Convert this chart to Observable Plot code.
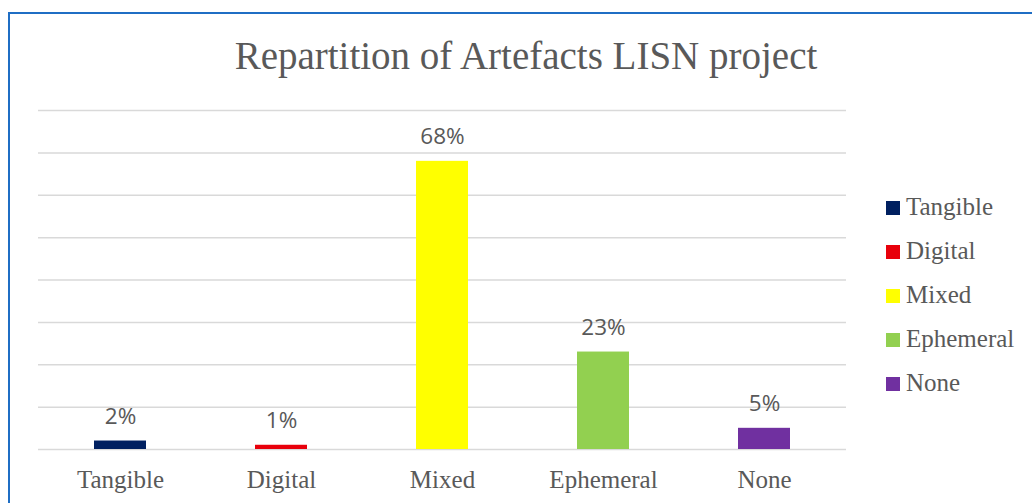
<!DOCTYPE html>
<html>
<head>
<meta charset="utf-8">
<script src="https://cdn.jsdelivr.net/npm/d3@7"></script>
<script src="https://cdn.jsdelivr.net/npm/@observablehq/plot@0.6"></script>
<style>
  html, body { margin: 0; padding: 0; background: #fff; width: 1032px; height: 503px; overflow: hidden; }
  #frame { position: absolute; left: 8px; top: 12px; width: 1040px; height: 520px;
           border-left: 2px solid #1f6ec4; border-top: 2px solid #1f6ec4; box-sizing: border-box; }
  #title { position: absolute; left: 0; top: 36px; width: 1052px; text-align: center;
           font-family: "Liberation Serif", serif; font-size: 39px; color: #595959; line-height: 1; }
  #chart { position: absolute; left: 0; top: 0; }
  #legend { position: absolute; left: 886px; top: 194px; font-family: "Liberation Serif", serif;
            font-size: 25px; color: #595959; }
  .row { position: absolute; left: 0; height: 30px; white-space: nowrap; line-height: 1; }
  .sw { position: absolute; left: 0; top: 7px; width: 14px; height: 14px; }
  .tx { position: absolute; left: 20px; top: 0; }
</style>
</head>
<body>
<div id="frame"></div>
<div id="title">Repartition of Artefacts LISN project</div>
<div id="chart"></div>
<div id="legend"></div>
<script>
const categories = ["Tangible", "Digital", "Mixed", "Ephemeral", "None"];
const values = [2, 1, 68, 23, 5];
const colors = ["#002060", "#e8000b", "#ffff00", "#92d050", "#7030a0"];
const gridTicks = [0, 10, 20, 30, 40, 50, 60, 70, 80];

const data = categories.map((c, i) => ({category: c, value: values[i], label: values[i] + "%"}));

const plot = Plot.plot({
  width: 870,
  height: 503,
  marginLeft: 38,
  marginRight: 24,
  marginTop: 110,
  marginBottom: 54,
  x: {domain: categories, paddingInner: 0.68, paddingOuter: 0.34, axis: null},
  y: {domain: [0, 80], axis: null},
  color: {domain: categories, range: colors},
  style: {background: "transparent"},
  marks: [
    Plot.ruleY(gridTicks, {stroke: "#d9d9d9", strokeWidth: 1.5}),
    Plot.barY(data, {x: "category", y: "value", fill: "category"}),
    Plot.text(data, {x: "category", y: "value", text: "label", dy: -17, lineAnchor: "bottom",
      fontFamily: "'Open Sans', sans-serif", fontSize: 22.5, fill: "#595959"}),
    Plot.axisX({domain: categories, tickSize: 0, tickPadding: 21, fontSize: 25,
      fontFamily: "'Liberation Serif', serif", color: "#595959", label: null})
  ]
});
plot.querySelectorAll("text").forEach(t => t.setAttribute("fill", "#595959"));
document.getElementById("chart").appendChild(plot);

const legend = document.getElementById("legend");
categories.forEach((c, i) => {
  const row = document.createElement("div");
  row.className = "row";
  row.style.top = (i * 44) + "px";
  const sw = document.createElement("div");
  sw.className = "sw";
  sw.style.background = colors[i];
  const tx = document.createElement("span");
  tx.className = "tx";
  tx.textContent = c;
  row.appendChild(sw);
  row.appendChild(tx);
  legend.appendChild(row);
});
</script>
</body>
</html>
